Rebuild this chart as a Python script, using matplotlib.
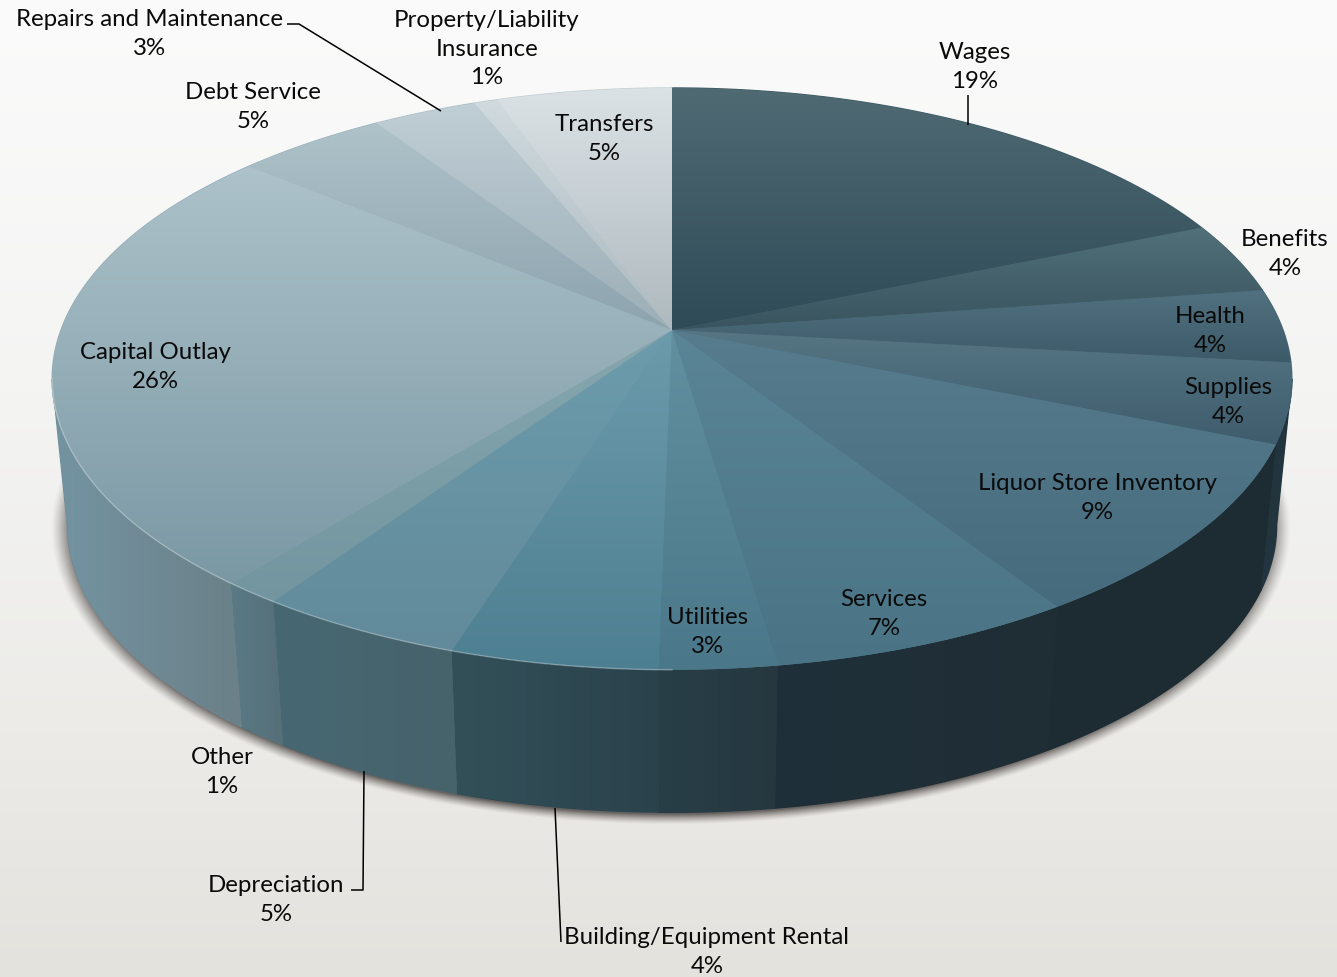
import numpy as np
import matplotlib
matplotlib.use('Agg')
import matplotlib.pyplot as plt
from matplotlib.colors import to_rgb
from matplotlib.patches import Polygon

# data
names = ['Wages', 'Benefits', 'Health', 'Supplies', 'Liquor Store Inventory', 'Services', 'Utilities',
         'Building/Equipment Rental', 'Depreciation', 'Other', 'Capital Outlay', 'Debt Service',
         'Repairs and Maintenance', 'Property/Liability\nInsurance', 'Transfers']
percent_labels = ['19%', '4%', '4%', '4%', '9%', '7%', '3%', '4%', '5%', '1%', '26%', '5%', '3%', '1%', '5%']
# slice sizes as they look in the picture, a bit finer than the rounded labels
values = [18.7, 4.0, 4.1, 4.4, 9.7, 6.8, 2.6, 4.6, 4.6, 1.3, 25.3, 4.6, 3.2, 0.7, 5.4]

# colours of the top face, upper and lower end of the gradient
top_hi = ['#4f6a73', '#517079', '#527180', '#567684', '#577c8e', '#5a8596', '#62909f', '#6c9bab', '#6c9cac',
          '#86a7ae', '#adc2ca', '#aec2c9', '#c0ced5', '#d0dadf', '#dbe2e6']
top_lo = ['#2f4b57', '#39545f', '#3c5a68', '#3e5c6c', '#466b7c', '#4a7485', '#4a788a', '#4d7f92', '#628a9a',
          '#72959f', '#7a98a4', '#8da3ae', '#9caeb6', '#abb9be', '#aeb9be']
# colours of the wall, left and right end
wall_l = ['#1f2e35', '#22353e', '#22353e', '#22353e', '#1e2d33', '#20303a', '#283f48', '#335059', '#466873',
          '#5a7a85', '#7494a2', '#7494a2', '#7494a2', '#7494a2', '#7494a2']
wall_r = ['#1f2e35', '#22353e', '#22353e', '#22353e', '#1d2c32', '#1f2e35', '#26373f', '#2a424c', '#47626b',
          '#566f79', '#6b8088', '#7494a2', '#7494a2', '#7494a2', '#7494a2']

# labels, centre of each text block
label_xy = [(975, 67), (1285, 254), (1210, 331), (1228, 402), (1097, 498), (884, 614), (708, 632), (707, 952),
            (276, 900), (222, 772), (155, 367), (253, 107), (149, 34), (487, 49), (604, 139)]

# leader lines
leaders = [[(287, 24), (299, 24), (441, 111)],
           [(351, 890), (363, 890), (364, 771)],
           [(555, 808), (561, 942)],
           [(968, 95), (968, 125)]]

fig_w, fig_h = 1337, 977
K = 0.168


def project(theta, cy, a, b):
    # circle seen in perspective, theta clockwise from the top
    u, v = np.sin(theta), np.cos(theta)
    d = 1 + K * v
    return 672 + b * u / d, cy - a * v / d


def top_rim(theta):
    return project(theta, 330, 282.7, 611)


def bottom_rim(theta):
    return project(theta, 477, 279, 596)


def grad_fill(ax, pts, c1, c2, vertical=True):
    pts = np.array(pts)
    x0, x1 = pts[:, 0].min(), pts[:, 0].max()
    y0, y1 = pts[:, 1].min(), pts[:, 1].max()
    t = np.linspace(0, 1, 128)
    rgb = np.outer(1 - t, to_rgb(c1)) + np.outer(t, to_rgb(c2))
    img = rgb[:, None, :] if vertical else rgb[None, :, :]
    # solid piece below the image so no seams show between slices
    mid = tuple((np.array(to_rgb(c1)) + np.array(to_rgb(c2))) / 2)
    ax.add_patch(Polygon(pts, closed=True, fc=mid, ec=mid, lw=1, zorder=2))
    im = ax.imshow(img, extent=(x0, x1, y1, y0), aspect='auto', interpolation='bilinear', zorder=3)
    poly = Polygon(pts, closed=True, transform=ax.transData, fc='none', ec='none')
    ax.add_patch(poly)
    im.set_clip_path(poly)


fig = plt.figure(figsize=(fig_w / 100, fig_h / 100), dpi=100)
ax = fig.add_axes([0, 0, 1, 1])
ax.set_xlim(0, fig_w)
ax.set_ylim(fig_h, 0)
ax.axis('off')

# background
yy = np.linspace(0, 1, fig_h)
stops = np.array([to_rgb(c) for c in ['#fbfbfb', '#f4f4f3', '#ecebe8', '#e4e2dd']])
bg = np.stack([np.interp(yy, [0, 0.4, 0.75, 1], stops[:, i]) for i in range(3)], axis=1)
ax.imshow(bg[:, None, :], extent=(0, fig_w, fig_h, 0), aspect='auto', zorder=0)

# shadow under the pie
xs, ys = np.meshgrid(np.arange(fig_w), np.arange(fig_h))
d = np.sqrt(((xs - 670.5) / 620) ** 2 + ((ys - 528) / 296) ** 2)
alpha = np.clip((1 - d) / 0.035, 0, 1) ** 1.3 * 0.8
alpha = alpha * np.clip((ys - 450) / 50, 0, 1)
shadow = np.zeros((fig_h, fig_w, 4))
shadow[..., 0] = 0.28
shadow[..., 1] = 0.26
shadow[..., 2] = 0.25
shadow[..., 3] = alpha
ax.imshow(shadow, extent=(0, fig_w, fig_h, 0), aspect='auto', zorder=1)

# walls
edges = np.cumsum([0] + values) / sum(values) * 2 * np.pi
wall_start = np.arccos(-K)
wall_end = 2 * np.pi - wall_start
for i in range(len(values)):
    a0, a1 = max(edges[i], wall_start), min(edges[i + 1], wall_end)
    if a1 <= a0:
        continue
    th = np.linspace(a0, a1, 60)
    tx, ty = top_rim(th)
    bx, by = bottom_rim(th)
    pts = np.r_[np.c_[tx, ty], np.c_[bx, by][::-1]]
    grad_fill(ax, pts, wall_l[i], wall_r[i], vertical=False)

# top face
for i in range(len(values)):
    th = np.linspace(edges[i], edges[i + 1], 80)
    rx, ry = top_rim(th)
    pts = np.r_[[[672, 330]], np.c_[rx, ry]]
    grad_fill(ax, pts, top_hi[i], top_lo[i])

# thin light edge on the front left of the rim
th = np.linspace(np.pi, wall_end, 120)
rx, ry = top_rim(th)
ax.plot(rx, ry, color='white', alpha=0.3, lw=1, zorder=4)

# leaders and labels
for line in leaders:
    pts = np.array(line)
    ax.plot(pts[:, 0], pts[:, 1], color='black', lw=1.1, zorder=5, solid_capstyle='butt')

for name, pct, (x, y) in zip(names, percent_labels, label_xy):
    ax.text(x, y, name + '\n' + pct, ha='center', va='center', family='Lato', fontsize=17.3,
            color='#0a0a0a', linespacing=1.45, zorder=6)

fig.savefig('out.png', dpi=100)
